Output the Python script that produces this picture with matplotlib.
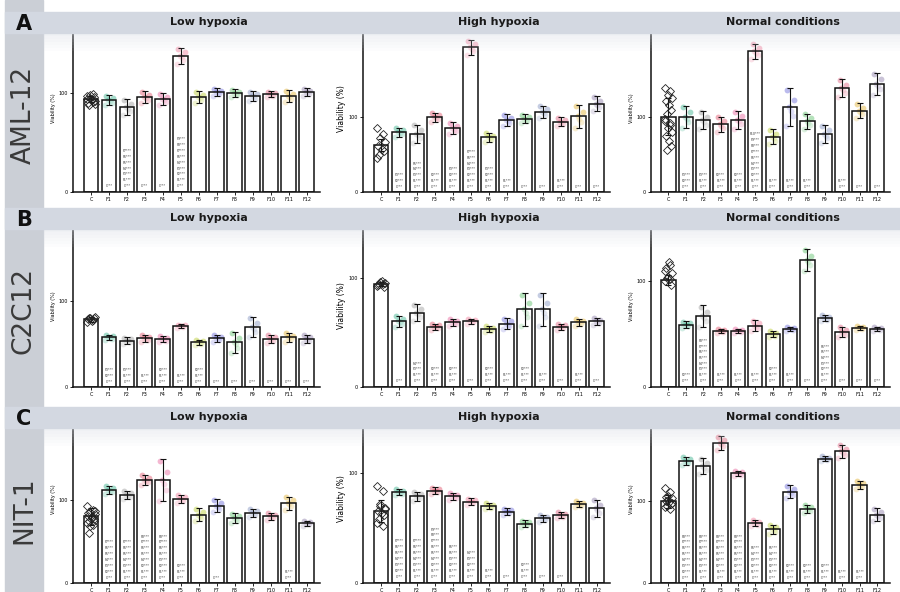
import matplotlib
matplotlib.use("Agg")
import matplotlib.pyplot as plt
from matplotlib.patches import Rectangle

# ---------------- data ----------------
groups = ["C", "F1", "F2", "F3", "F4", "F5", "F6", "F7", "F8", "F9", "F10", "F11", "F12"]
cell_lines = ["AML-12", "C2C12", "NIT-1"]
row_letters = ["A", "B", "C"]
conditions = ["Low hypoxia", "High hypoxia", "Normal conditions"]

# mean viability (%) per group
aml_low = [94, 93, 86, 96, 94, 138, 96, 101, 100, 97, 99, 97, 101]
aml_high = [63, 80, 78, 100, 85, 193, 73, 96, 98, 107, 94, 101, 118]
aml_norm = [101, 101, 96, 91, 97, 189, 74, 114, 95, 78, 139, 109, 145]
c2c_low = [79, 58, 54, 57, 56, 71, 52, 57, 52, 70, 56, 58, 56]
c2c_high = [94, 60, 68, 55, 59, 60, 53, 58, 71, 71, 55, 59, 60]
c2c_norm = [101, 59, 67, 53, 53, 58, 50, 55, 120, 65, 52, 56, 55]
nit_low = [80, 112, 106, 124, 124, 101, 82, 93, 78, 84, 80, 96, 72]
nit_high = [66, 83, 79, 84, 79, 74, 70, 65, 54, 59, 62, 72, 68]
nit_norm = [99, 148, 142, 170, 133, 73, 65, 111, 90, 151, 160, 119, 83]

# standard deviations
aml_low_sd = [3, 5, 8, 6, 6, 8, 6, 4, 4, 5, 3, 6, 4]
aml_high_sd = [8, 6, 12, 6, 8, 10, 6, 8, 6, 8, 6, 15, 10]
aml_norm_sd = [25, 15, 12, 10, 12, 10, 10, 25, 10, 12, 12, 10, 15]
c2c_low_sd = [3, 3, 4, 4, 4, 2, 3, 4, 12, 12, 5, 5, 5]
c2c_high_sd = [2, 5, 8, 3, 3, 2, 3, 5, 15, 15, 3, 3, 3]
c2c_norm_sd = [5, 3, 10, 2, 2, 5, 3, 2, 10, 3, 5, 2, 2]
nit_low_sd = [10, 5, 5, 6, 25, 5, 8, 8, 6, 5, 4, 8, 3]
nit_high_sd = [10, 3, 4, 3, 3, 3, 3, 3, 3, 3, 3, 3, 8]
nit_norm_sd = [8, 5, 10, 8, 3, 4, 6, 8, 5, 3, 8, 5, 8]

# individual control replicates (%)
aml_low_ctrl = [97, 99, 95, 92, 90, 93, 96, 88, 94, 91, 98, 89]
aml_high_ctrl = [85, 78, 72, 67, 62, 58, 55, 50, 46]
aml_norm_ctrl = [140, 135, 130, 126, 122, 117, 110, 104, 98, 92, 86, 80, 75, 68, 62, 56, 95, 90]
c2c_low_ctrl = [76, 78, 80, 82, 79, 77, 81, 80]
c2c_high_ctrl = [92, 94, 96, 95, 93, 97, 91, 94]
c2c_norm_ctrl = [100, 102, 104, 108, 112, 118, 96, 103, 110, 115]
nit_low_ctrl = [92, 88, 85, 83, 81, 79, 77, 75, 72, 70, 68, 86, 84, 78, 74, 60]
nit_high_ctrl = [88, 84, 72, 68, 66, 64, 62, 58, 55, 52, 70, 67]
nit_norm_ctrl = [115, 110, 106, 103, 100, 98, 96, 94, 92, 90, 101, 97, 105]

# number of significance lines printed inside each bar
aml_low_sig = [0, 1, 7, 1, 1, 9, 0, 0, 0, 0, 0, 0, 0]
aml_high_sig = [0, 3, 5, 3, 4, 7, 4, 2, 1, 1, 2, 1, 1]
aml_norm_sig = [0, 3, 3, 3, 3, 10, 2, 2, 2, 0, 2, 1, 1]
c2c_low_sig = [0, 3, 3, 2, 3, 2, 3, 1, 1, 1, 1, 1, 1]
c2c_high_sig = [0, 1, 4, 3, 3, 1, 3, 2, 3, 2, 1, 2, 1]
c2c_norm_sig = [0, 2, 8, 2, 2, 2, 3, 2, 1, 7, 1, 1, 1]
nit_low_sig = [0, 7, 7, 8, 8, 3, 0, 1, 0, 0, 0, 2, 0]
nit_high_sig = [0, 7, 7, 9, 6, 5, 2, 1, 3, 1, 1, 0, 0]
nit_norm_sig = [0, 8, 8, 8, 8, 6, 6, 3, 3, 3, 2, 2, 0]

# y-axis upper limits
ytops = [[169, 223, 224], [189, 148, 153], [202, 153, 204]]

# ---------------- styling ----------------
group_colors = ["#000000", "#35b08a", "#9a9a9a", "#e0506a", "#e8609a", "#f07a9a",
                "#b8cc30", "#6a6ad8", "#5cc06a", "#8090c0", "#e06080", "#e0b030", "#8a7aa8"]

W, H = 900, 592
fig = plt.figure(figsize=(9, 5.92), dpi=100)


def fx(x):
    return x / W


def fy(y):
    return 1 - y / H


# left strip with cell line names and header bands
fig.patches.append(Rectangle((fx(5), 0), fx(38), 1, transform=fig.transFigure,
                             color="#cbcfd6", zorder=0))
band_tops = [12, 208, 407]
band_h = 21
for r, top in enumerate(band_tops):
    fig.patches.append(Rectangle((fx(5), fy(top + band_h)), fx(895), band_h / H,
                                 transform=fig.transFigure, color="#d3d8e1", zorder=0))
    # soft fade under the band
    for k in range(6):
        fig.patches.append(Rectangle((fx(43), fy(top + band_h + 3 * (k + 1))), fx(857),
                                     3 / H, transform=fig.transFigure,
                                     color="#d3d8e1", alpha=0.35 * (1 - k / 6), lw=0, zorder=0))
    fig.text(fx(24), fy(top + 12), row_letters[r], fontsize=15, fontweight="bold",
             ha="center", va="center", color="#111111")

label_centers = [115, 310, 510]
for r, yc in enumerate(label_centers):
    fig.text(fx(24), fy(yc), cell_lines[r], fontsize=19, rotation=90,
             ha="center", va="center", color="#3a3a3a")

panel_x = [(73, 320), (363, 610), (651, 890)]
row_y = [(25, 192), (225, 387), (415, 583)]

means = [[aml_low, aml_high, aml_norm], [c2c_low, c2c_high, c2c_norm], [nit_low, nit_high, nit_norm]]
sds = [[aml_low_sd, aml_high_sd, aml_norm_sd], [c2c_low_sd, c2c_high_sd, c2c_norm_sd],
       [nit_low_sd, nit_high_sd, nit_norm_sd]]
ctrls = [[aml_low_ctrl, aml_high_ctrl, aml_norm_ctrl], [c2c_low_ctrl, c2c_high_ctrl, c2c_norm_ctrl],
         [nit_low_ctrl, nit_high_ctrl, nit_norm_ctrl]]
sigs = [[aml_low_sig, aml_high_sig, aml_norm_sig], [c2c_low_sig, c2c_high_sig, c2c_norm_sig],
        [nit_low_sig, nit_high_sig, nit_norm_sig]]

title_y = [22, 218, 417]
pt_dx = [-0.22, 0.15, -0.05, 0.22, -0.15, 0.05]
pt_k = [-1.0, -0.5, 0.0, 0.4, 0.9, -0.2]
ctrl_dx = [-0.2, 0.1, -0.05, 0.2, -0.15, 0.05, 0.15, -0.1]

for r in range(3):
    y0, y1 = row_y[r]
    for c in range(3):
        x0, x1 = panel_x[c]
        ax = fig.add_axes([fx(x0), fy(y1), fx(x1 - x0), (y1 - y0) / H])
        ax.patch.set_alpha(0)
        m = means[r][c]
        s = sds[r][c]
        xs = list(range(len(groups)))
        # replicate points behind bars
        for i in range(1, len(groups)):
            for dx, k in zip(pt_dx, pt_k):
                ax.plot(i + dx, m[i] + k * s[i], "o", ms=4.2, color=group_colors[i],
                        alpha=0.45, mec="none", zorder=1)
        ax.bar(xs, m, width=0.82, color="white", alpha=0.5, edgecolor="none", zorder=2)
        ax.bar(xs, m, width=0.82, fill=False, edgecolor="#111111", linewidth=1.1, zorder=3)
        ax.errorbar(xs, m, yerr=s, fmt="none", ecolor="#111111", elinewidth=0.8,
                    capsize=2, capthick=0.8, zorder=4)
        for j, v in enumerate(ctrls[r][c]):
            ax.plot(ctrl_dx[j % len(ctrl_dx)], v, "D", ms=3.6, mfc="none", mec="#222222",
                    mew=0.6, zorder=5)
        # significance annotations inside bars
        for i, n in enumerate(sigs[r][c]):
            others = [g for g in groups if g != groups[i]]
            for k in range(n):
                ax.text(i, 4 + k * (ytops[r][c] * 0.035), others[k] + "***",
                        fontsize=2.3, ha="center", va="bottom", color="#333333", zorder=6)
        ax.set_xlim(-1.0, 12.75)
        ax.set_ylim(0, ytops[r][c])
        ax.set_yticks([0, 100])
        ax.set_yticklabels(["0", "100"], fontsize=3.5)
        ax.set_xticks(xs)
        ax.set_xticklabels(groups, fontsize=3.5)
        ax.tick_params(length=2, width=0.6, pad=1.5)
        for sp in ["top", "right"]:
            ax.spines[sp].set_visible(False)
        for sp in ["left", "bottom"]:
            ax.spines[sp].set_linewidth(1.1)
            ax.spines[sp].set_color("#111111")
        ax.set_ylabel("Viability (%)", fontsize=5.5 if c == 1 else 3.5, labelpad=2)
        fig.text(fx((x0 + x1) / 2 + 12), fy(title_y[r]), conditions[c], fontsize=8,
                 fontweight="bold", ha="center", va="center", color="#1a1a1a")

fig.savefig("out.png", dpi=100)
